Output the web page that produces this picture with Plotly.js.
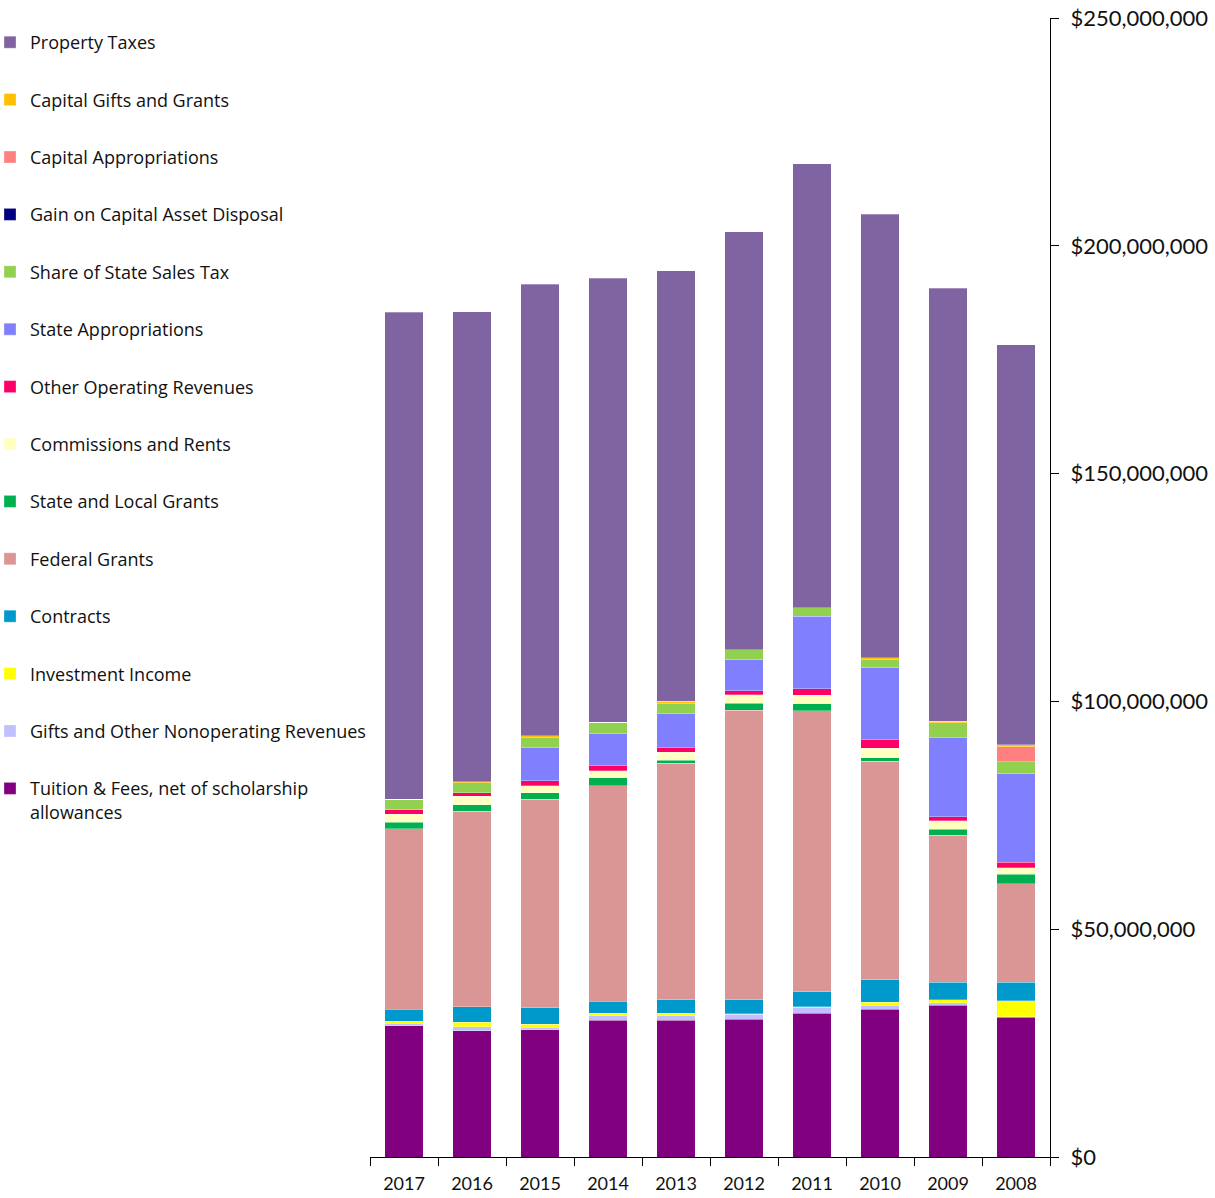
<!DOCTYPE html>
<html>
<head>
<meta charset="utf-8">
<script src="https://cdn.plot.ly/plotly-3.0.1.min.js"></script>
<style>html,body{margin:0;padding:0;background:#fff;}#chart{width:1215px;height:1198px;}</style>
</head>
<body>
<div id="chart"></div>
<script>
// Values in millions of dollars
const years = ["2017","2016","2015","2014","2013","2012","2011","2010","2009","2008"];
const tuitionFees      = [28.8, 27.66, 27.94, 30.07, 30.07, 30.29, 31.54, 32.42, 33.3, 30.66];
const giftsNonoperating= [0.6, 0.88, 0.59, 0.88, 0.94, 1.03, 1.32, 0.88, 0.57, 0.1];
const investmentIncome = [0.45, 1.03, 0.66, 0.59, 0.59, 0.1, 0.15, 0.66, 0.66, 3.58];
const contracts        = [2.57, 3.42, 3.58, 2.7, 2.92, 3.14, 3.29, 4.96, 3.82, 4.02];
const federalGrants    = [39.6, 42.9, 45.74, 47.26, 51.95, 63.5, 61.68, 47.94, 32.26, 21.66];
const stateLocalGrants = [1.47, 1.45, 1.45, 1.69, 0.59, 1.54, 1.54, 0.79, 1.38, 2.04];
const commissionsRents = [1.76, 1.84, 1.54, 1.54, 1.82, 1.84, 1.84, 2.06, 1.82, 1.47];
const otherOperating   = [0.94, 0.79, 1.1, 1.16, 1.1, 0.88, 1.45, 1.82, 0.88, 1.16];
const stateApprop      = [0, 0, 7.18, 7.02, 7.46, 6.94, 15.89, 15.87, 17.34, 19.53];
const salesTax         = [2.35, 2.13, 2.26, 2.5, 2.04, 2.13, 1.82, 1.76, 3.29, 2.57];
const gainDisposal     = [0, 0, 0, 0, 0, 0, 0, 0, 0, 0];
const capitalApprop    = [0, 0, 0, 0, 0, 0, 0, 0, 0, 3.29];
const capitalGifts     = [0, 0.29, 0.37, 0, 0.59, 0, 0, 0.37, 0.37, 0.37];
const propertyTaxes    = [106.9, 103.1, 99.2, 97.5, 94.4, 91.68, 97.45, 97.45, 95.04, 87.8];

const SCALE = 1e6;
const series = [
  ["Tuition & Fees, net of scholarship<br>allowances", tuitionFees, "#800080"],
  ["Gifts and Other Nonoperating Revenues", giftsNonoperating, "#C0C0FF"],
  ["Investment Income", investmentIncome, "#FFFF00"],
  ["Contracts", contracts, "#0099CC"],
  ["Federal Grants", federalGrants, "#DA9694"],
  ["State and Local Grants", stateLocalGrants, "#00B050"],
  ["Commissions and Rents", commissionsRents, "#FFFFC0"],
  ["Other Operating Revenues", otherOperating, "#FF0066"],
  ["State Appropriations", stateApprop, "#8080FF"],
  ["Share of State Sales Tax", salesTax, "#92D050"],
  ["Gain on Capital Asset Disposal", gainDisposal, "#000080"],
  ["Capital Appropriations", capitalApprop, "#FF8080"],
  ["Capital Gifts and Grants", capitalGifts, "#FFC000"],
  ["Property Taxes", propertyTaxes, "#8064A2"]
];

const traces = series.map((s, i) => ({
  type: "bar",
  name: s[0],
  x: years,
  y: s[1].map(v => v * SCALE),
  legendgroup: "g" + i,
  legendrank: 1000 - i,
  marker: {color: s[2], line: {color: "rgba(255,255,255,0.5)", width: 0.6}}
}));

const layout = {
  width: 1215, height: 1198,
  margin: {l: 370, r: 165, t: 18, b: 41, autoexpand: false},
  barmode: "stack",
  bargap: 0.44,
  paper_bgcolor: "#fff", plot_bgcolor: "#fff",
  font: {family: "Lato, 'Open Sans', sans-serif", color: "#000"},
  showlegend: true,
  legend: {
    x: -380 / 680, xanchor: "left", y: 1 - 6 / 1139, yanchor: "top",
    traceorder: "grouped",
    tracegroupgap: 31,
    valign: "top",
    font: {size: 18, family: "'Open Sans', sans-serif", color: "#111"},
    bgcolor: "rgba(0,0,0,0)",
    itemwidth: 30
  },
  xaxis: {
    type: "category",
    showline: true, linecolor: "#000", linewidth: 1,
    ticks: "outside", ticklen: 8, tickcolor: "#000", tickson: "boundaries",
    ticklabelstandoff: 10,
    tickfont: {size: 18, family: "Lato, sans-serif", color: "#111"},
    showgrid: false, zeroline: false, fixedrange: true
  },
  yaxis: {
    side: "right",
    range: [0, 250000000],
    dtick: 50000000,
    tickprefix: "$", tickformat: ",.0f",
    showline: true, linecolor: "#000", linewidth: 1,
    ticks: "outside", ticklen: 8, tickcolor: "#000",
    ticklabelstandoff: 7,
    tickfont: {size: 22, family: "Lato, sans-serif", color: "#111"},
    showgrid: false, zeroline: false
  }
};

Plotly.newPlot("chart", traces, layout, {displayModeBar: false, staticPlot: true});
</script>
</body>
</html>
